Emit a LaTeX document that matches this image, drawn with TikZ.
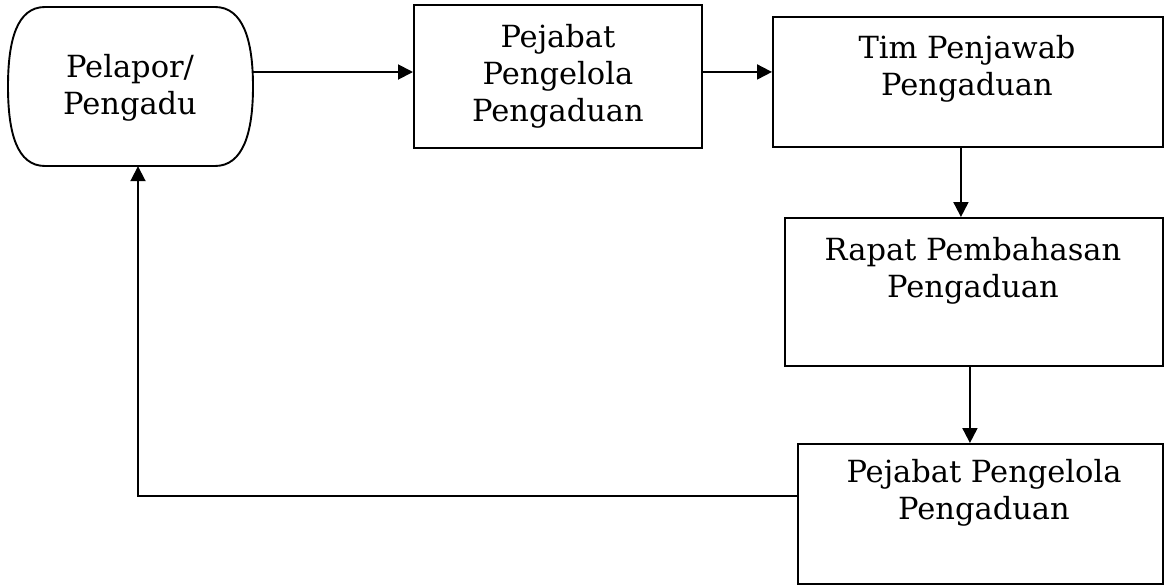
\documentclass[tikz,border=0pt]{standalone}
\usepackage{fontspec}
\setmainfont{DejaVu Serif}
\usetikzlibrary{arrows.meta}
\begin{document}
\begin{tikzpicture}[x=1pt,y=-1pt,
  box/.style={draw, line width=1.9pt, inner sep=0pt, anchor=north west},
  lbl/.style={align=center, font=\fontsize{30.5}{37}\selectfont, inner sep=0pt},
  arr/.style={-{Triangle[length=15pt,width=15pt]}, line width=1.9pt}]
\useasboundingbox (0,0) rectangle (1165,587);
% terminator shape
\node[inner sep=0pt, minimum width=245pt, minimum height=159pt] (p) at (130.5,86.5) {};
\draw[line width=1.9pt] (45,7) -- (215,7) .. controls (243,7) and (253,40) .. (253,86.5)
  .. controls (253,133) and (243,166) .. (215,166) -- (45,166)
  .. controls (17,166) and (8,133) .. (8,86.5) .. controls (8,40) and (17,7) .. (45,7) -- cycle;
\node[lbl] (pt) at (130,88) {Pelapor/\\Pengadu};
% boxes
\node[box, minimum width=288pt, minimum height=143pt] (b1) at (413,4) {};
\node[lbl] (b1t) at (b1.center) {Pejabat\\Pengelola\\Pengaduan};
\node[box, minimum width=390pt, minimum height=130pt] (b2) at (772,16) {};
\node[lbl, anchor=north] (b2t) at (967,35) {Tim Penjawab\\Pengaduan};
\node[box, minimum width=378pt, minimum height=148pt] (b3) at (784,217) {};
\node[lbl, anchor=north] (b3t) at (973,237) {Rapat Pembahasan\\Pengaduan};
\node[box, minimum width=365pt, minimum height=140pt] (b4) at (797,443) {};
\node[lbl, anchor=north] (b4t) at (984,459) {Pejabat Pengelola\\Pengaduan};
% connectors
\draw[arr] ([yshift=14.5pt]p.east) -- ([yshift=14.5pt]p.east -| b1.west);
\draw[arr] ([yshift=4.5pt]b1.east) -- ([yshift=4.5pt]b1.east -| b2.west);
\draw[arr] ([xshift=-7pt]b2.south) -- ([xshift=-7pt]b2.south |- b3.north);
\draw[arr] ([xshift=-4pt]b3.south) -- ([xshift=-4pt]b3.south |- b4.north);
\coordinate (corner) at (138,496);
\draw[arr] (b4.west |- corner) -- (corner) -- (corner |- p.south);
\end{tikzpicture}
\end{document}
